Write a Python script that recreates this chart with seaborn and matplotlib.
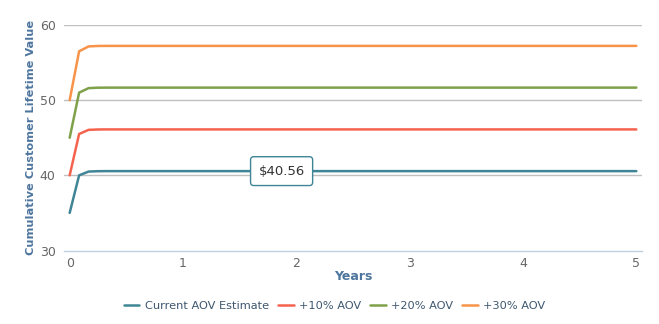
import matplotlib
matplotlib.use("Agg")
import matplotlib.pyplot as plt
import seaborn as sns
import numpy as np
import pandas as pd

# ---- data (monthly points over 5 years) ----
months = list(range(61))
years = [m / 12 for m in months]
current = [35.0, 40.0, 40.5, 40.55] + [40.56] * 57
plus10 = [40.0, 45.5, 46.05, 46.1] + [46.11] * 57
plus20 = [45.0, 51.0, 51.6, 51.66] + [51.67] * 57
plus30 = [50.0, 56.5, 57.15, 57.21] + [57.22] * 57
series_names = ["Current AOV Estimate", "+10% AOV", "+20% AOV", "+30% AOV"]
colors = ["#3f8596", "#f5634f", "#7ea14a", "#f7944a"]
tooltip_text = "$40.56"
tooltip_x = 1.87
tooltip_y = 40.56
x_ticks = [0, 1, 2, 3, 4, 5]
y_ticks = [30, 40, 50, 60]
grid_ticks = [40, 50, 60]

df = pd.DataFrame({
    "Years": years * 4,
    "Value": current + plus10 + plus20 + plus30,
    "Series": sum([[n] * len(years) for n in series_names], []),
})

sns.set_style("white")
plt.rcParams["font.family"] = ["DejaVu Sans"]

fig = plt.figure(figsize=(6.59, 3.24), dpi=100)
ax = fig.add_axes([64 / 659, 1 - 250.5 / 324, (642 - 64) / 659, (250.5 - 25) / 324])

sns.lineplot(data=df, x="Years", y="Value", hue="Series", hue_order=series_names,
             palette=colors, linewidth=1.8, ax=ax, legend=True)

ax.set_xlim(-0.05, 5.05)
ax.set_ylim(30, 60)
ax.set_xticks(x_ticks)
ax.set_yticks(y_ticks)
for yv in grid_ticks:
    ax.axhline(yv, color="#c0c0c0", linewidth=1, zorder=0)
ax.grid(False)
for s in ["top", "right", "left"]:
    ax.spines[s].set_visible(False)
ax.spines["bottom"].set_color("#c0d0e0")
ax.spines["bottom"].set_linewidth(1)
ax.tick_params(axis="x", colors="#666666", labelsize=9, length=5, width=1, color="#c0d0e0", direction="out", pad=0)
ax.tick_params(axis="y", colors="#666666", labelsize=9, length=0, pad=6)
ax.set_xlabel("Years", color="#4d759e", fontsize=9, fontweight="bold", labelpad=0)
ax.set_ylabel("Cumulative Customer Lifetime Value", color="#4d759e", fontsize=8.2,
              fontweight="bold", labelpad=3)

ax.annotate(tooltip_text, xy=(tooltip_x, tooltip_y), ha="center", va="center",
            fontsize=9.5, color="#333333", zorder=10,
            bbox=dict(boxstyle="round,pad=0.6,rounding_size=0.25", fc="white",
                      ec="#3f8596", lw=1))

handles, labels = ax.get_legend_handles_labels()
ax.get_legend().remove()
leg = fig.legend(handles, labels, loc="center", bbox_to_anchor=(334.5 / 659, 1 - 306 / 324),
                 ncol=4, frameon=False, fontsize=8.2, handlelength=1.4,
                 columnspacing=0.8, handletextpad=0.45)
for t in leg.get_texts():
    t.set_color("#3e576f")

fig.savefig("out.png", dpi=100)
